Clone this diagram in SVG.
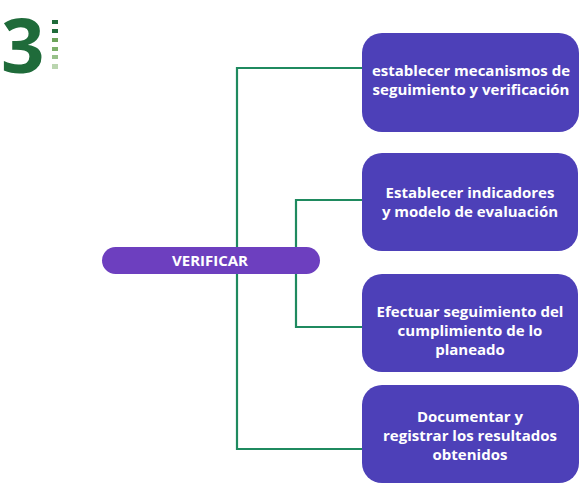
<svg xmlns="http://www.w3.org/2000/svg" width="580" height="484" viewBox="0 0 580 484">
<style>
.box{fill:#4d40b8}
.pill{fill:#6d3fbf}
.t{font-family:"Open Sans","Noto Sans",sans-serif;font-weight:bold;font-size:15px;fill:#ffffff;text-anchor:middle}
.c{fill:none;stroke:#1f8a5f;stroke-width:2.2}
</style>
<rect width="580" height="484" fill="#ffffff"/>
<g id="logo">
<text x="1" y="73" font-family="Open Sans, sans-serif" font-weight="bold" font-size="76" fill="#1f6b3a">3</text>
<rect x="52" y="20" width="6" height="4" fill="#1f6b3a"/>
<rect x="52" y="29" width="6" height="4" fill="#1f6b3a"/>
<rect x="52" y="38" width="6" height="4" fill="#6ca35a"/>
<rect x="52" y="47" width="6" height="4" fill="#7db06a"/>
<rect x="52" y="55" width="6" height="4" fill="#98c08a"/>
<rect x="52" y="64" width="6" height="5" fill="#bad5af"/>
</g>
<g id="connectors">
<polyline class="c" points="362,68 237,68 237,449 362,449"/>
<polyline class="c" points="362,200 296,200 296,327 362,327"/>
</g>
<g id="verificar">
<rect class="pill" x="102" y="247" width="218" height="27" rx="13.5"/>
<text class="t" x="210" y="266">VERIFICAR</text>
</g>
<g id="n1">
<rect class="box" x="362" y="33" width="217" height="99" rx="20"/>
<text class="t" x="471" y="76">establecer mecanismos de</text>
<text class="t" x="471" y="95">seguimiento y verificación</text>
</g>
<g id="n2">
<rect class="box" x="362" y="153" width="216" height="98" rx="20"/>
<text class="t" x="470" y="198">Establecer indicadores</text>
<text class="t" x="470" y="217">y modelo de evaluación</text>
</g>
<g id="n3">
<rect class="box" x="362" y="274" width="216" height="98" rx="20"/>
<text class="t" x="470" y="317">Efectuar seguimiento del</text>
<text class="t" x="470" y="336">cumplimiento de lo</text>
<text class="t" x="470" y="355">planeado</text>
</g>
<g id="n4">
<rect class="box" x="362" y="385" width="217" height="98" rx="20"/>
<text class="t" x="470" y="422">Documentar y</text>
<text class="t" x="470" y="441">registrar los resultados</text>
<text class="t" x="470" y="460">obtenidos</text>
</g>
</svg>
